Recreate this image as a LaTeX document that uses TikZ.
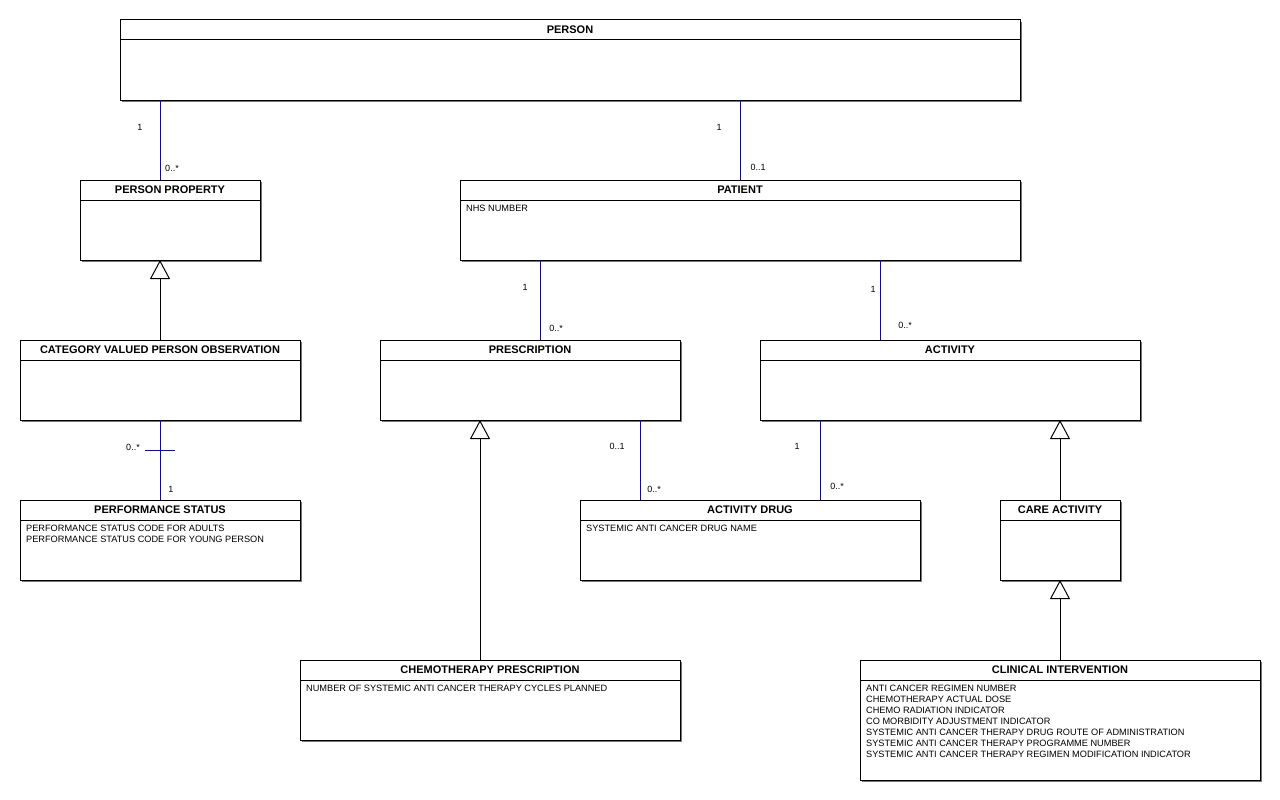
\documentclass[tikz,border=0pt]{standalone}
\usepackage{fontspec}
\setmainfont{Liberation Sans}
\usetikzlibrary{arrows.meta}
\tikzset{
  boxframe/.style={draw=black, line width=1pt, fill=white, inner sep=0pt, outer sep=0pt, anchor=north west},
  boxshadow/.style={fill=black!55, draw=none},
  ttl/.style={font=\bfseries\fontsize{11}{12}\selectfont, inner sep=0pt},
  attr/.style={font=\fontsize{9.2}{11}\selectfont, align=left, inner sep=0pt, anchor=north west},
  assoc/.style={draw=blue, line width=1pt},
  inherit/.style={draw=black, line width=1pt, -{Triangle[open, length=19pt, width=20pt, line width=1pt]}},
  mult/.style={font=\fontsize{9}{10}\selectfont, inner sep=0pt},
}
\newcommand\umlclass[7]{%
  \fill[boxshadow] (#2+2,#3+2) rectangle (#4+2,#5+2);
  \node[boxframe, minimum width={(#4-#2)*1pt}, minimum height={(#5-#3)*1pt}] (#1) at (#2,#3) {};
  \draw[line width=1pt] ([yshift=-20pt]#1.north west) -- ([yshift=-20pt]#1.north east);
  \node[ttl] (#1-t) at ([yshift=-10pt]#1.north) {#6};
  \if\relax\detokenize{#7}\relax\else
    \node[attr] (#1-a) at ([xshift=6pt,yshift=-24.5pt]#1.north west) {#7};
  \fi
}
\begin{document}
\begin{tikzpicture}[x=1pt,y=-1pt]
\fill[white] (0,0) rectangle (1280,800);
\useasboundingbox (0,0) rectangle (1280,800);

\umlclass{person}{120}{20}{1020}{100}{PERSON}{}
\umlclass{pprop}{80}{180}{260}{260}{PERSON PROPERTY}{}
\umlclass{patient}{460}{180}{1020}{260}{PATIENT}{NHS NUMBER}
\umlclass{cvpo}{20}{340}{300}{420}{CATEGORY VALUED PERSON OBSERVATION}{}
\umlclass{presc}{380}{340}{680}{420}{PRESCRIPTION}{}
\umlclass{activity}{760}{340}{1140}{420}{ACTIVITY}{}
\umlclass{perf}{20}{500}{300}{580}{PERFORMANCE STATUS}{PERFORMANCE STATUS CODE FOR ADULTS\\PERFORMANCE STATUS CODE FOR YOUNG PERSON}
\umlclass{adrug}{580}{500}{920}{580}{ACTIVITY DRUG}{SYSTEMIC ANTI CANCER DRUG NAME}
\umlclass{care}{1000}{500}{1120}{580}{CARE ACTIVITY}{}
\umlclass{chemo}{300}{660}{680}{740}{CHEMOTHERAPY PRESCRIPTION}{NUMBER OF SYSTEMIC ANTI CANCER THERAPY CYCLES PLANNED}
\umlclass{clin}{860}{660}{1260}{780}{CLINICAL INTERVENTION}{ANTI CANCER REGIMEN NUMBER\\CHEMOTHERAPY ACTUAL DOSE\\CHEMO RADIATION INDICATOR\\CO MORBIDITY ADJUSTMENT INDICATOR\\SYSTEMIC ANTI CANCER THERAPY DRUG ROUTE OF ADMINISTRATION\\SYSTEMIC ANTI CANCER THERAPY PROGRAMME NUMBER\\SYSTEMIC ANTI CANCER THERAPY REGIMEN MODIFICATION INDICATOR}

% associations
\draw[assoc] ([xshift=80pt]pprop.north west) -- ([xshift=80pt]pprop.north west |- person.south);
\node[mult] (m1a) at (140,127) {1};
\node[mult] (m1b) at (172,168) {0..*};

\draw[assoc] ([xshift=280pt]patient.north west) -- ([xshift=280pt]patient.north west |- person.south);
\node[mult] (m2a) at (719,127) {1};
\node[mult] (m2b) at (758,167) {0..1};

\draw[assoc] ([xshift=160pt]presc.north west) -- ([xshift=160pt]presc.north west |- patient.south);
\node[mult] (m3a) at (525,287) {1};
\node[mult] (m3b) at (556,328) {0..*};

\draw[assoc] ([xshift=120pt]activity.north west) -- ([xshift=120pt]activity.north west |- patient.south);
\node[mult] (m4a) at (873,289) {1};
\node[mult] (m4b) at (905,325) {0..*};

\draw[assoc] ([xshift=140pt]perf.north west) -- ([xshift=140pt]perf.north west |- cvpo.south);
\coordinate (xb) at ([xshift=140pt,yshift=-30pt]cvpo.south west);
\draw[assoc] ([xshift=-15pt]xb) -- ([xshift=15pt]xb);
\node[mult] (m5a) at (133,447) {0..*};
\node[mult] (m5b) at (171,489) {1};

\draw[assoc] ([xshift=60pt]adrug.north west) -- ([xshift=60pt]adrug.north west |- presc.south);
\node[mult] (m6a) at (617,446) {0..1};
\node[mult] (m6b) at (654,489) {0..*};

\draw[assoc] ([xshift=240pt]adrug.north west) -- ([xshift=240pt]adrug.north west |- activity.south);
\node[mult] (m7a) at (797,446) {1};
\node[mult] (m7b) at (837,486) {0..*};

% generalisations
\draw[inherit] ([xshift=140pt]cvpo.north west) -- ([xshift=140pt]cvpo.north west |- pprop.south);
\draw[inherit] ([xshift=180pt]chemo.north west) -- ([xshift=180pt]chemo.north west |- presc.south);
\draw[inherit] (care.north) -- (care.north |- activity.south);
\draw[inherit] (clin.north -| care.south) -- (care.south);
\end{tikzpicture}
\end{document}
